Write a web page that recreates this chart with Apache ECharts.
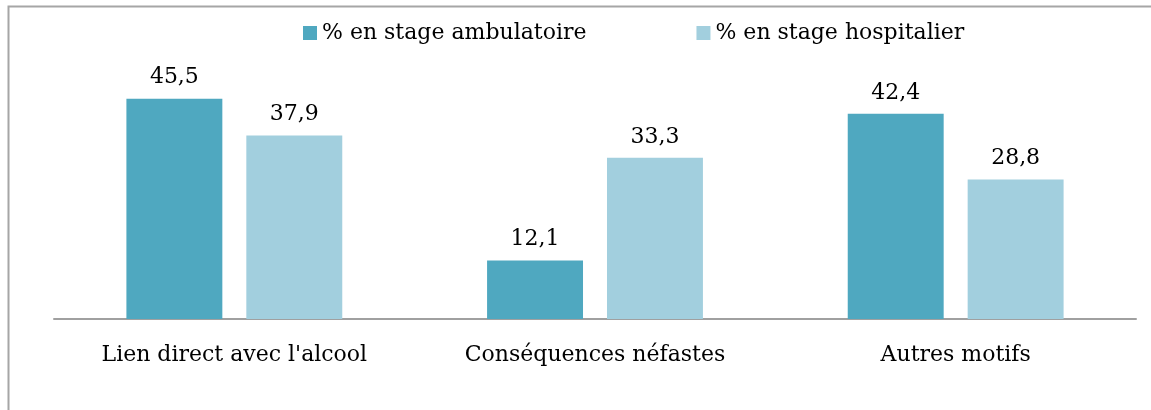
<!DOCTYPE html>
<html>
<head>
<meta charset="utf-8">
<script src="https://cdn.jsdelivr.net/npm/echarts@6/dist/echarts.min.js"></script>
<style>
  html, body { margin: 0; padding: 0; background: #fff; }
  #chart { width: 1151px; height: 410px; }
</style>
</head>
<body>
<div id="chart"></div>
<script>
const categories = ['Lien direct avec l\'alcool', 'Conséquences néfastes', 'Autres motifs']
const seriesNames = ['% en stage ambulatoire', '% en stage hospitalier']
const ambulatoire = [45.5, 12.1, 42.4]
const hospitalier = [37.9, 33.3, 28.8]

const fontFamily = 'DejaVu Serif'
const chart = echarts.init(document.getElementById('chart'))

const labelStyle = {
  show: true,
  position: 'top',
  distance: 10,
  color: '#000',
  fontSize: 22,
  fontFamily: fontFamily,
  formatter: p => String(p.value).replace('.', ',')
}

chart.setOption({
  animation: false,
  textStyle: { fontFamily: fontFamily },
  // cadre gris en haut et à gauche
  graphic: [{
    type: 'rect',
    shape: { x: 8.5, y: 6.5, width: 1300, height: 600 },
    style: { fill: 'none', stroke: '#a6a6a6', lineWidth: 2 },
    silent: true
  }],
  legend: {
    data: seriesNames,
    left: 298,
    top: 17,
    itemWidth: 14,
    itemHeight: 14,
    itemGap: 110,
    icon: 'rect',
    textStyle: { fontFamily: fontFamily, fontSize: 22, color: '#000' }
  },
  grid: {
    top: 77,
    left: 54,
    right: 15,
    bottom: 91,
    containLabel: false
  },
  xAxis: [{
    type: 'category',
    data: categories,
    axisTick: { show: false },
    axisLine: { lineStyle: { color: '#a0a0a0', width: 2 } },
    axisLabel: {
      color: '#000',
      fontSize: 22,
      fontFamily: fontFamily,
      margin: 25,
      interval: 0
    }
  }],
  yAxis: [{
    type: 'value',
    min: 0,
    max: 50,
    show: false,
    splitLine: { show: false }
  }],
  series: [{
    name: seriesNames[0],
    type: 'bar',
    barWidth: '26.6%',
    barGap: '25%',
    itemStyle: { color: '#4fa8c0' },
    label: labelStyle,
    data: ambulatoire
  }, {
    name: seriesNames[1],
    type: 'bar',
    barWidth: '26.6%',
    barGap: '25%',
    itemStyle: { color: '#a2cfde' },
    label: labelStyle,
    data: hospitalier
  }]
})
</script>
</body>
</html>
